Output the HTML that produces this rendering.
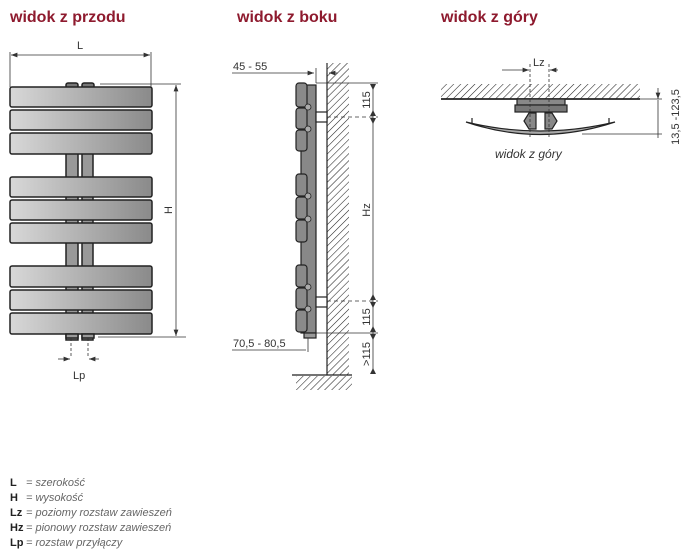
<!DOCTYPE html>
<html><head><meta charset="utf-8"><style>
html,body{margin:0;padding:0;background:#fff;}
svg{display:block;font-family:"Liberation Sans",sans-serif;}
.t{font-weight:bold;fill:#8e1a2e;font-size:16px;}
.d{font-size:11px;fill:#333;}
</style></head><body>
<svg width="685" height="555" viewBox="0 0 685 555" xmlns="http://www.w3.org/2000/svg">
<defs>
<linearGradient id="g" x1="0" x2="1" y1="0" y2="0">
<stop offset="0" stop-color="#d8d8d8"/><stop offset="1" stop-color="#8a8a8a"/></linearGradient>
<pattern id="h" width="5" height="5" patternUnits="userSpaceOnUse" patternTransform="rotate(45)">
<line x1="0" y1="0" x2="0" y2="5" stroke="#222" stroke-width="1.1"/></pattern>
<marker id="a" markerWidth="8" markerHeight="6" refX="8" refY="3" orient="auto-start-reverse"><path d="M0,0L8,3L0,6z" fill="#333"/></marker>
</defs>
<rect width="685" height="555" fill="#fff"/>
<text x="10" y="22" class="t">widok z przodu</text>
<text x="237" y="22" class="t">widok z boku</text>
<text x="441" y="22" class="t">widok z góry</text>

<!-- FRONT -->
<g stroke="#222" stroke-width="1.5">
<rect x="66" y="150" width="12" height="190" fill="#999"/>
<rect x="82" y="150" width="11" height="190" fill="#999"/>
<rect x="66" y="83" width="12" height="5" rx="2" fill="#777"/>
<rect x="82" y="83" width="12" height="5" rx="2" fill="#777"/>
<g fill="url(#g)">
<rect x="10" y="87" width="142" height="20" rx="2"/>
<rect x="10" y="110" width="142" height="20" rx="2"/>
<rect x="10" y="133" width="142" height="21" rx="2"/>
<rect x="10" y="177" width="142" height="20" rx="2"/>
<rect x="10" y="200" width="142" height="20" rx="2"/>
<rect x="10" y="223" width="142" height="20" rx="2"/>
<rect x="10" y="266" width="142" height="21" rx="2"/>
<rect x="10" y="290" width="142" height="20" rx="2"/>
<rect x="10" y="313" width="142" height="21" rx="2"/>
</g>
<rect x="66" y="334" width="12" height="4" fill="#999"/>
<rect x="82" y="334" width="12" height="4" fill="#999"/>
</g>
<g stroke="#333" stroke-width="0.8" fill="none">
<line x1="10" y1="52" x2="10" y2="87"/><line x1="151" y1="52" x2="151" y2="87"/>
<line x1="11" y1="55" x2="150" y2="55" marker-start="url(#a)" marker-end="url(#a)"/>
<line x1="100" y1="84" x2="181" y2="84"/><line x1="98" y1="337" x2="186" y2="337"/>
<line x1="176" y1="85" x2="176" y2="336" marker-start="url(#a)" marker-end="url(#a)"/>
<line x1="71" y1="338" x2="71" y2="356" stroke-dasharray="3,2"/>
<line x1="88" y1="338" x2="88" y2="356" stroke-dasharray="3,2"/>
<line x1="58" y1="359" x2="70" y2="359" marker-end="url(#a)"/>
<line x1="99" y1="359" x2="89" y2="359" marker-end="url(#a)"/>
</g>
<text x="77" y="49" class="d">L</text>
<text transform="translate(172,210) rotate(-90)" class="d" text-anchor="middle">H</text>
<text x="73" y="379" class="d">Lp</text>

<!-- SIDE -->
<rect x="327" y="63" width="22" height="312" fill="url(#h)"/>
<rect x="296" y="376" width="56" height="14" fill="url(#h)"/>
<g stroke="#222" stroke-width="1.2">
<line x1="327" y1="63" x2="327" y2="375"/>
<line x1="292" y1="375" x2="352" y2="375"/>
<rect x="301" y="85" width="15" height="248" fill="#888"/>
<rect x="304" y="333" width="12" height="5" fill="#999"/>
<rect x="316" y="112" width="11" height="10" fill="#fff"/>
<rect x="316" y="297" width="11" height="10" fill="#fff"/>
<g fill="#8a8a8a">
<rect x="296" y="83" width="11" height="24" rx="3"/><rect x="296" y="108" width="11" height="21" rx="3"/><rect x="296" y="130" width="11" height="21" rx="3"/>
<rect x="296" y="174" width="11" height="22" rx="3"/><rect x="296" y="197" width="11" height="22" rx="3"/><rect x="296" y="220" width="11" height="22" rx="3"/>
<rect x="296" y="265" width="11" height="22" rx="3"/><rect x="296" y="288" width="11" height="21" rx="3"/><rect x="296" y="310" width="11" height="22" rx="3"/>
</g>
<g fill="#aaa" stroke-width="0.8"><circle cx="308" cy="107" r="3"/><circle cx="308" cy="129" r="3"/><circle cx="308" cy="196" r="3"/><circle cx="308" cy="219" r="3"/><circle cx="308" cy="287" r="3"/><circle cx="308" cy="309" r="3"/></g>
</g>
<g stroke="#333" stroke-width="0.8" fill="none">
<line x1="316" y1="83" x2="378" y2="83"/><line x1="316" y1="333" x2="378" y2="333"/>
<line x1="327" y1="117" x2="378" y2="117" stroke-dasharray="4,3"/>
<line x1="327" y1="301" x2="378" y2="301" stroke-dasharray="4,3"/>
<line x1="373" y1="84" x2="373" y2="374"/>
<line x1="316" y1="68" x2="316" y2="83"/><line x1="327" y1="64" x2="327" y2="73"/>
<line x1="232" y1="73" x2="314" y2="73" marker-end="url(#a)"/><line x1="338" y1="73" x2="329" y2="73" marker-end="url(#a)"/>
<line x1="308" y1="338" x2="308" y2="352"/>
<line x1="232" y1="350" x2="306" y2="350"/>
</g>
<g fill="#333"><path d="M370,84l3,6l3,-6z M370,116l3,-6l3,6z M370,118l3,6l3,-6z M370,300l3,-6l3,6z M370,302l3,6l3,-6z M370,332l3,-6l3,6z M370,334l3,6l3,-6z M370,374l3,-6l3,6z"/></g>
<text x="233" y="70" class="d">45 - 55</text>
<text x="233" y="347" class="d">70,5 - 80,5</text>
<text transform="translate(370,100) rotate(-90)" class="d" text-anchor="middle">115</text>
<text transform="translate(370,210) rotate(-90)" class="d" text-anchor="middle">Hz</text>
<text transform="translate(370,317) rotate(-90)" class="d" text-anchor="middle">115</text>
<text transform="translate(370,354) rotate(-90)" class="d" text-anchor="middle">&gt;115</text>

<!-- TOP -->
<rect x="441" y="84" width="199" height="15" fill="url(#h)"/>
<g stroke="#222" stroke-width="1.2">
<line x1="441" y1="99" x2="640" y2="99" stroke-width="1.8"/>
<rect x="517" y="99" width="48" height="6" fill="#888"/>
<rect x="515" y="105" width="52" height="7" fill="#777"/>
<path d="M529,113l-5,8l5,8h7v-16z M552,113l5,8l-5,8h-7v-16z" fill="#888"/>
<path d="M466,122Q540,147 615,122Q540,140 466,122z" fill="#aaa"/>
<line x1="472" y1="118" x2="472" y2="124"/><line x1="609" y1="118" x2="609" y2="124"/>
</g>
<g stroke="#333" stroke-width="0.8" fill="none">
<line x1="530" y1="64" x2="530" y2="138" stroke-dasharray="3,2"/>
<line x1="549" y1="64" x2="549" y2="138" stroke-dasharray="3,2"/>
<line x1="502" y1="70" x2="529" y2="70" marker-end="url(#a)"/>
<line x1="558" y1="70" x2="550" y2="70" marker-end="url(#a)"/>
<line x1="640" y1="99" x2="662" y2="99"/><line x1="582" y1="134" x2="662" y2="134"/>
<line x1="658" y1="88" x2="658" y2="99" marker-end="url(#a)"/>
<line x1="658" y1="100" x2="658" y2="138"/>
</g>
<text x="533" y="66" class="d">Lz</text>
<text transform="translate(679,117) rotate(-90)" class="d" text-anchor="middle">13,5 -123,5</text>
<text x="495" y="158" style="font-size:12px;font-style:italic;fill:#333">widok z góry</text>

<!-- LEGEND -->
<g font-size="11" fill="#666" font-style="italic">
<text x="10" y="486"><tspan font-weight="bold" font-style="normal" fill="#222">L</tspan><tspan x="26">= szerokość</tspan></text>
<text x="10" y="501"><tspan font-weight="bold" font-style="normal" fill="#222">H</tspan><tspan x="26">= wysokość</tspan></text>
<text x="10" y="516"><tspan font-weight="bold" font-style="normal" fill="#222">Lz</tspan><tspan x="26">= poziomy rozstaw zawieszeń</tspan></text>
<text x="10" y="531"><tspan font-weight="bold" font-style="normal" fill="#222">Hz</tspan><tspan x="26">= pionowy rozstaw zawieszeń</tspan></text>
<text x="10" y="546"><tspan font-weight="bold" font-style="normal" fill="#222">Lp</tspan><tspan x="26">= rozstaw przyłączy</tspan></text>
</g>
</svg>
</body></html>
